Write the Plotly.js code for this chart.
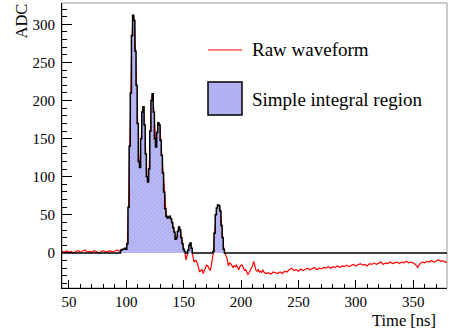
<!DOCTYPE html>
<html>
<head>
<meta charset="utf-8">
<script src="https://cdn.plot.ly/plotly-3.0.1.min.js"></script>
<style>html,body{margin:0;padding:0;background:#fff;}#chart{width:449px;height:331px;}</style>
</head>
<body>
<div id="chart"></div>
<script>
// Time samples [ns]
const timeNs = [
  44,46,48,50,52,54,56,58,60,62,64,66,68,70,72,74,76,78,80,82,84,86,88,90,92,94,
  96,97,98,99,100,101,102,103,104,105,106,107,108,109,110,111,112,113,114,115,116,117,118,119,
  120,121,122,123,124,125,126,127,128,129,130,131,132,133,134,135,136,137,138,139,
  140,141,142,143,144,145,146,147,148,149,150,151,152,153,154,155,156,157,158,159,
  160,161,162,163,164,165,166,167,168,169,170,171,172,173,174,175,176,177,178,179,
  180,181,182,183,184,185,186,187,188,189,190,191,192,193,194,195,196,197,198,199,
  200,201,202,203,204,205,206,207,208,209,210,211,212,213,214,215,216,217,218,219,
  220,222,224,226,228,230,232,234,236,238,240,242,244,246,248,250,252,254,256,258,
  260,262,264,266,268,270,272,274,276,278,280,282,284,286,288,290,292,294,296,298,
  300,302,304,306,308,310,312,314,316,318,320,322,324,326,328,330,332,334,336,338,
  340,342,344,346,348,350,352,354,356,358,360,362,364,366,368,370,372,374,376,378,380
];
// Raw waveform [ADC]
const rawAdc = [
  2,1,3,1,2,0,2,3,1,2,4,1,2,1,3,2,0,2,3,1,2,3,1,2,4,2,
  4,5,5,6,5,12,60,140,210,285,312,305,265,220,170,120,112,150,185,192,168,130,100,93,
  110,160,200,209,185,150,139,158,171,168,148,128,105,80,58,48,46,47,48,45,
  40,33,27,18,20,28,34,30,20,12,5,2,-9,-4,4,10,13,6,-4,-12,
  -10,-10,-14,-19,-25,-23,-22,-27,-24,-20,-16,-17,-20,-23,-18,-10,2,26,50,59,
  63,62,55,36,20,5,0,-4,-8,-17,-13,-14,-17,-19,-17,-18,-16,-20,-22,-18,
  -16,-16,-20,-23,-22,-25,-28,-26,-22,-20,-17,-11,-16,-23,-24,-22,-25,-24,-26,-22,
  -25,-27,-26,-28,-25,-26,-27,-25,-27,-24,-25,-22,-20,-23,-22,-24,-21,-23,-22,-20,
  -22,-21,-19,-22,-20,-21,-19,-20,-18,-20,-18,-19,-17,-19,-17,-18,-16,-18,-17,-15,
  -17,-16,-14,-16,-15,-17,-14,-15,-13,-15,-14,-12,-15,-13,-14,-12,-14,-13,-12,-14,
  -12,-13,-11,-13,-12,-13,-15,-19,-14,-12,-13,-11,-12,-10,-12,-11,-9,-11,-10,-12,-12
];
// Simple integral region [ns]
const regionStart = 96;
const regionEnd = 186;

const xTicks = [50,100,150,200,250,300,350];
const yTicks = [0,50,100,150,200,250,300];

const integralAdc = timeNs.map((t, i) => (t >= regionStart && t <= regionEnd) ? Math.max(rawAdc[i], 0) : 0);

const font = 'Liberation Serif, Times New Roman, serif';

const traces = [
  {
    x: timeNs, y: rawAdc, type: 'scatter', mode: 'lines',
    line: {color: '#ff0000', width: 1.2}, hoverinfo: 'skip', showlegend: false
  },
  {
    x: timeNs, y: integralAdc, type: 'scatter', mode: 'lines',
    line: {color: '#000000', width: 1.5, shape: 'hvh'},
    fill: 'tozeroy', fillcolor: '#b2b2f3',
    fillpattern: {shape: '/', bgcolor: '#aeaef2', fgcolor: '#c6c6f8', size: 3, solidity: 0.3},
    hoverinfo: 'skip', showlegend: false
  }
];

const layout = {
  width: 449, height: 331,
  margin: {l: 62, r: 2, t: 3, b: 43},
  paper_bgcolor: '#ffffff', plot_bgcolor: '#ffffff',
  showlegend: false,
  font: {family: font, size: 15, color: '#000'},
  xaxis: {
    range: [44, 379.5], tickvals: xTicks, ticktext: xTicks.map(String),
    ticks: 'inside', ticklen: 8, tickwidth: 1, tickcolor: '#000',
    minor: {dtick: 10, tick0: 0, ticks: 'inside', ticklen: 4, tickcolor: '#000'},
    showline: true, linecolor: '#000', linewidth: 1,
    showgrid: false, zeroline: false, tickfont: {family: font, size: 15, color: '#000'}
  },
  yaxis: {
    range: [-46, 328], tickvals: yTicks, ticktext: yTicks.map(String),
    ticks: 'inside', ticklen: 10, tickwidth: 1, tickcolor: '#000',
    minor: {dtick: 10, tick0: 0, ticks: 'inside', ticklen: 5, tickcolor: '#000'},
    showline: true, linecolor: '#000', linewidth: 1, ticklabelstandoff: 3,
    showgrid: false, zeroline: false, tickfont: {family: font, size: 15, color: '#000'}
  },
  shapes: [
    {type: 'rect', xref: 'paper', yref: 'paper', x0: 0, x1: 1, y0: 0, y1: 1,
     line: {color: '#999', width: 1}, layer: 'below'},
    // legend symbols
    {type: 'line', xref: 'paper', yref: 'paper',
     x0: (208-62)/385, x1: (242-62)/385, y0: (288-50)/285, y1: (288-50)/285,
     line: {color: '#ff0000', width: 1.2}},
    {type: 'rect', xref: 'paper', yref: 'paper',
     x0: (208-62)/385, x1: (242-62)/385, y0: (288-115)/285, y1: (288-82)/285,
     fillcolor: '#b2b2f3', line: {color: '#000', width: 1.5}}
  ],
  annotations: [
    {text: 'Raw waveform', xref: 'paper', yref: 'paper', x: (250-62)/385, y: (288-50)/285,
     xanchor: 'left', yanchor: 'middle', showarrow: false, font: {family: font, size: 19, color: '#000'}},
    {text: 'Simple integral region', xref: 'paper', yref: 'paper', x: (250-62)/385, y: (288-99)/285,
     xanchor: 'left', yanchor: 'middle', showarrow: false, font: {family: font, size: 19, color: '#000'}},
    {text: 'Time [ns]', xref: 'paper', yref: 'paper', x: (438-62)/385, y: (288-320)/285,
     xanchor: 'right', yanchor: 'middle', showarrow: false, font: {family: font, size: 16.5, color: '#000'}},
    {text: 'ADC', xref: 'paper', yref: 'paper', x: (21-62)/385, y: (288-2)/285, textangle: -90,
     xanchor: 'center', yanchor: 'top', showarrow: false, font: {family: font, size: 16.5, color: '#000'}}
  ]
};

Plotly.newPlot('chart', traces, layout, {staticPlot: true, displayModeBar: false});
</script>
</body>
</html>
